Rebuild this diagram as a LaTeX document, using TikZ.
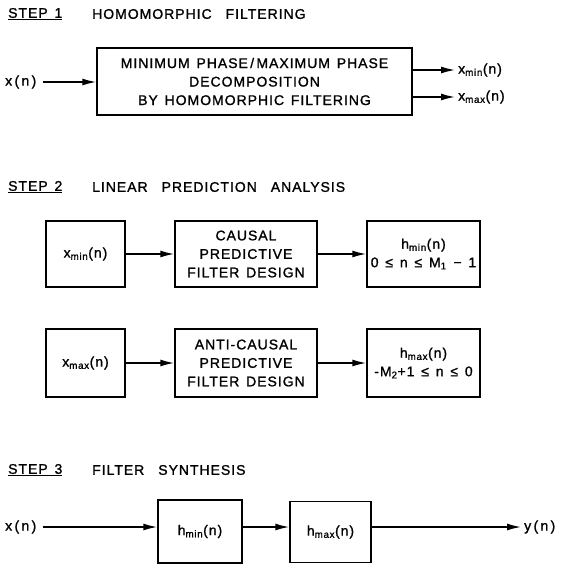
\documentclass[tikz,border=0pt]{standalone}
\usepackage{fontspec}
\setmainfont{Liberation Sans}[LetterSpace=7,FakeBold=1.2,WordSpace=1.4]
\usetikzlibrary{arrows.meta}
\begin{document}
\begin{tikzpicture}[x=1pt,y=-1pt,>={Latex[length=14pt,width=7pt]},
  blk/.style={draw,line width=1.5pt,align=center,inner sep=0pt,
    font=\fontsize{14}{18.5}\selectfont},
  lbl/.style={inner sep=3pt,font=\fontsize{14}{16}\selectfont},
  flow/.style={->,line width=1.5pt}]
  \useasboundingbox (0,0) rectangle (573,568);
  % step 1
  \node[lbl,anchor=west] (s1) at (5,14) {\underline{STEP 1}};
  \node[lbl,anchor=west] (t1) at (89,14) {HOMOMORPHIC\quad FILTERING};
  \node[blk,minimum width=315,minimum height=67] (dec) at (254.5,81.5)
    {MINIMUM PHASE\,/\,MAXIMUM PHASE\\DECOMPOSITION\\BY HOMOMORPHIC FILTERING};
  \node[lbl,anchor=west] (xin1) at (2,82) {x\,(\,n\,)};
  \node[lbl,anchor=west] (xmin1) at (455,70) {x\textsubscript{min}(n)};
  \node[lbl,anchor=west] (xmax1) at (455,97) {x\textsubscript{max}(n)};
  \draw[flow,shorten <=3pt] (xin1.east) -- (dec.west |- xin1.east);
  \draw[flow] (dec.east |- xmin1.west) -- (xmin1.west);
  \draw[flow] (dec.east |- xmax1.west) -- (xmax1.west);
  % step 2
  \node[lbl,anchor=west] (s2) at (5,187) {\underline{STEP 2}};
  \node[lbl,anchor=west] (t2) at (89,187) {LINEAR\quad PREDICTION\quad ANALYSIS};
  \node[blk,minimum width=79,minimum height=66] (xmin2) at (85.5,254) {x\textsubscript{min}(n)};
  \node[blk,minimum width=142,minimum height=66] (causal) at (246,254)
    {CAUSAL\\PREDICTIVE\\FILTER DESIGN};
  \node[blk,minimum width=113,minimum height=66] (hmin2) at (423.5,254)
    {h\textsubscript{min}(n)\\0 ≤ n ≤ M\textsubscript{1} − 1};
  \node[blk,minimum width=79,minimum height=68] (xmax2) at (85.5,363) {x\textsubscript{max}(n)};
  \node[blk,minimum width=142,minimum height=68] (anti) at (246,363)
    {ANTI-CAUSAL\\PREDICTIVE\\FILTER DESIGN};
  \node[blk,minimum width=113,minimum height=68] (hmax2) at (423.5,363)
    {h\textsubscript{max}(n)\\-M\textsubscript{2}+1 ≤ n ≤ 0};
  \draw[flow] (xmin2) -- (causal);
  \draw[flow] (causal) -- (hmin2);
  \draw[flow] (xmax2) -- (anti);
  \draw[flow] (anti) -- (hmax2);
  % step 3
  \node[lbl,anchor=west] (s3) at (5,470) {\underline{STEP 3}};
  \node[lbl,anchor=west] (t3) at (89,470) {FILTER\quad SYNTHESIS};
  \node[blk,minimum width=84,minimum height=63] (hmin3) at (200,531.5) {h\textsubscript{min}(n)};
  \node[blk,minimum width=81,minimum height=61] (hmax3) at (330.5,532) {h\textsubscript{max}(n)};
  \node[lbl,anchor=west] (xin3) at (2,527) {x\,(\,n\,)};
  \node[lbl,anchor=west] (yout3) at (521,527) {y\,(\,n\,)};
  \draw[flow,shorten <=3pt] (xin3.east) -- (hmin3.west |- xin3.east);
  \draw[flow] (hmin3.east |- xin3.east) -- (hmax3.west |- xin3.east);
  \draw[flow] (hmax3.east |- yout3.west) -- (yout3.west);
\end{tikzpicture}
\end{document}
